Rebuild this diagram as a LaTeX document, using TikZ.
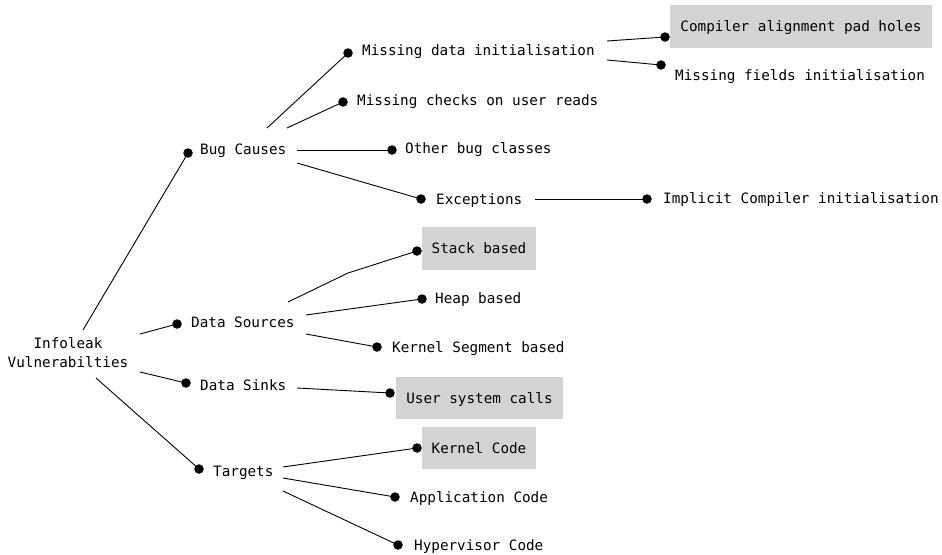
\documentclass[tikz,border=0pt]{standalone}
\usepackage{fontspec}
\setmonofont{DejaVu Sans Mono}
\begin{document}
\begin{tikzpicture}[x=1pt,y=-1pt,
  every node/.style={font=\ttfamily\fontsize{14.3}{19}\selectfont},
  lbl/.style={anchor=west,inner sep=0pt,text height=10.4pt,text depth=0pt},
  gbox/.style={fill=boxgray,inner sep=0pt,text height=10.4pt,text depth=0pt},
  dot/.style={circle,fill=black,inner sep=0pt,minimum size=9.5pt},
  edge/.style={draw=black,line width=0.9pt}]
\definecolor{boxgray}{HTML}{D3D3D3}
\useasboundingbox (0,0) rectangle (942,554);

% root
\node[align=center,inner sep=0pt] (root) at (68,353) {Infoleak\\Vulnerabilties};

% first level
\node[lbl] (bug)   at (200,149) {Bug Causes};
\node[lbl] (src)   at (191,322) {Data Sources};
\node[lbl] (sink)  at (200,385) {Data Sinks};
\node[lbl] (tgt)   at (213,471) {Targets};

% bug causes
\node[lbl] (mdi)   at (362,50)  {Missing data initialisation};
\node[lbl] (mcu)   at (357,100) {Missing checks on user reads};
\node[lbl] (obc)   at (405,148) {Other bug classes};
\node[lbl] (exc)   at (436,199) {Exceptions};
\node[lbl] (ici)   at (663,198) {Implicit Compiler initialisation};
\node[gbox,minimum width=262pt,minimum height=43pt] (cap) at (801,26.5) {Compiler alignment pad holes};
\node[lbl] (mfi)   at (675,75)  {Missing fields initialisation};

% data sources / sinks
\node[gbox,minimum width=114pt,minimum height=43pt] (stk) at (479,248.5) {Stack based};
\node[lbl] (heap)  at (435,298) {Heap based};
\node[lbl] (kseg)  at (392,347) {Kernel Segment based};
\node[gbox,minimum width=167pt,minimum height=42pt] (usc) at (479.5,398) {User system calls};

% targets
\node[gbox,minimum width=114pt,minimum height=42pt] (kc) at (479,448) {Kernel Code};
\node[lbl] (app)   at (410,497) {Application Code};
\node[lbl] (hyp)   at (414,545) {Hypervisor Code};

% connector heads
\node[dot] (d-bug)  at (188,153) {};
\node[dot] (d-src)  at (177,324) {};
\node[dot] (d-sink) at (186,383) {};
\node[dot] (d-tgt)  at (199,469) {};
\node[dot] (d-mdi)  at (348,53)  {};
\node[dot] (d-mcu)  at (343,102) {};
\node[dot] (d-obc)  at (392,150) {};
\node[dot] (d-exc)  at (421,199) {};
\node[dot] (d-ici)  at (647,199) {};
\node[dot] (d-cap)  at (665,37)  {};
\node[dot] (d-mfi)  at (661,65)  {};
\node[dot] (d-stk)  at (417,251) {};
\node[dot] (d-heap) at (422,299) {};
\node[dot] (d-kseg) at (377,347) {};
\node[dot] (d-usc)  at (390,393) {};
\node[dot] (d-kc)   at (417,448) {};
\node[dot] (d-app)  at (395,497) {};
\node[dot] (d-hyp)  at (398,545) {};

% connector tails
\coordinate (t-root-bug)  at (83,330);
\coordinate (t-root-src)  at (140,334);
\coordinate (t-root-sink) at (140,372);
\coordinate (t-root-tgt)  at (96,378);
\coordinate (t-bug-mdi)   at (267,128);
\coordinate (t-bug-mcu)   at (287,128);
\coordinate (t-bug-obc)   at (297,150);
\coordinate (t-bug-exc)   at (297,163);
\coordinate (t-mdi-cap)   at (607,41);
\coordinate (t-mdi-mfi)   at (607,60);
\coordinate (t-exc-ici)   at (535,199);
\coordinate (t-src-stk)   at (288,302);
\coordinate (b-src-stk)   at (348,273);
\coordinate (t-src-heap)  at (306,315);
\coordinate (t-src-kseg)  at (306,334);
\coordinate (t-sink-usc)  at (297,388);
\coordinate (t-tgt-kc)    at (283,467);
\coordinate (t-tgt-app)   at (283,478);
\coordinate (t-tgt-hyp)   at (283,491);

% connectors
\draw[edge] (t-root-bug)  -- (d-bug.center);
\draw[edge] (t-root-src)  -- (d-src.center);
\draw[edge] (t-root-sink) -- (d-sink.center);
\draw[edge] (t-root-tgt)  -- (d-tgt.center);
\draw[edge] (t-bug-mdi)   -- (d-mdi.center);
\draw[edge] (t-bug-mcu)   -- (d-mcu.center);
\draw[edge] (t-bug-obc)   -- (d-obc.center);
\draw[edge] (t-bug-exc)   -- (d-exc.center);
\draw[edge] (t-mdi-cap)   -- (d-cap.center);
\draw[edge] (t-mdi-mfi)   -- (d-mfi.center);
\draw[edge] (t-exc-ici)   -- (d-ici.center);
\draw[edge] (t-src-stk)   -- (b-src-stk) -- (d-stk.center);
\draw[edge] (t-src-heap)  -- (d-heap.center);
\draw[edge] (t-src-kseg)  -- (d-kseg.center);
\draw[edge] (t-sink-usc)  -- (d-usc.center);
\draw[edge] (t-tgt-kc)    -- (d-kc.center);
\draw[edge] (t-tgt-app)   -- (d-app.center);
\draw[edge] (t-tgt-hyp)   -- (d-hyp.center);
\end{tikzpicture}
\end{document}
